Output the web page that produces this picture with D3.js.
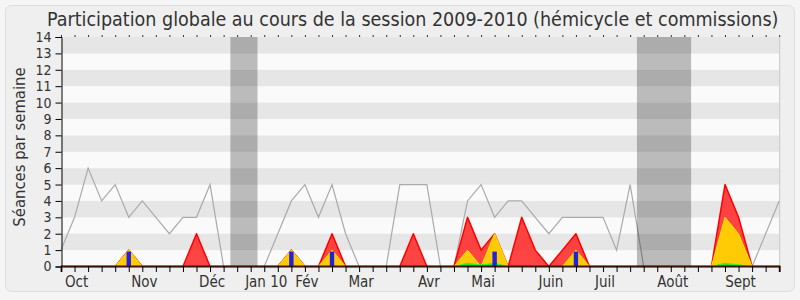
<!DOCTYPE html>
<html>
<head>
<meta charset="utf-8">
<script src="https://cdn.jsdelivr.net/npm/d3@7"></script>
<style>
  body { margin: 0; background: #f5f5f5; }
  text { font-family: "DejaVu Sans Condensed", "DejaVu Sans", sans-serif; fill: #333; }
</style>
</head>
<body>
<svg id="chart" width="800" height="300"></svg>
<script>
// one value per week, Oct 2009 -> Sept 2010
var median   = [1, 3, 6, 4, 5, 3, 4, 3, 2, 3, 3, 5, 0, 0, 0, 0, 2, 4, 5, 3,
                5, 2, 0, 0, 0, 5, 5, 5, 0, 0, 4, 5, 3, 4, 4, 3, 2, 3, 3, 3,
                3, 1, 5, 0, 0, 0, 0, 0, 0, 1, 2, 0, 2, 4];
var presence = [0, 0, 0, 0, 0, 1, 0, 0, 0, 0, 2, 0, 0, 0, 0, 0, 0, 1, 0, 0,
                2, 0, 0, 0, 0, 0, 2, 0, 0, 0, 3, 1, 2, 0, 3, 1, 0, 1, 2, 0,
                0, 0, 0, 0, 0, 0, 0, 0, 0, 5, 3, 0, 0, 0];
var interv   = [0, 0, 0, 0, 0, 1, 0, 0, 0, 0, 0, 0, 0, 0, 0, 0, 0, 1, 0, 0,
                1, 0, 0, 0, 0, 0, 0, 0, 0, 0, 1, 0, 2, 0, 0, 0, 0, 0, 1, 0,
                0, 0, 0, 0, 0, 0, 0, 0, 0, 3, 2, 0, 0, 0];
var longues  = [0, 0, 0, 0, 0, 0, 0, 0, 0, 0, 0, 0, 0, 0, 0, 0, 0, 0, 0, 0,
                0, 0, 0, 0, 0, 0, 0, 0, 0, 0, 0.2, 0.1, 0.2, 0, 0, 0, 0, 0, 0, 0,
                0, 0, 0, 0, 0, 0, 0, 0, 0, 0.2, 0.1, 0, 0, 0];
var questions = [0, 0, 0, 0, 0, 1, 0, 0, 0, 0, 0, 0, 0, 0, 0, 0, 0, 1, 0, 0,
                 1, 0, 0, 0, 0, 0, 0, 0, 0, 0, 0, 0, 1, 0, 0, 0, 0, 0, 1, 0,
                 0, 0, 0, 0, 0, 0, 0, 0, 0, 0, 0, 0, 0, 0];
var vacances = [[12.5, 14.5], [42.5, 46.5]];
var monthWeeks  = [1, 6, 11, 15, 18, 22, 27, 31, 36, 40, 45, 50];
var monthLabels = ['Oct', 'Nov', 'Déc', 'Jan 10', 'Fév', 'Mar', 'Avr', 'Mai', 'Juin', 'Juil', 'Août', 'Sept'];
var yTicks = d3.range(0, 15);

var svg = d3.select('#chart');
var x = d3.scaleLinear().domain([0, median.length - 1]).range([61, 779.2]);
var y = d3.scaleLinear().domain([0, 14]).range([266.5, 37]);

// card
svg.append('rect').attr('x', 5.5).attr('y', 5.5).attr('width', 789).attr('height', 286)
    .attr('rx', 6).attr('fill', '#efefef').attr('stroke', '#dedede');

// stripes
svg.append('g').selectAll('rect').data(d3.range(0, 14)).enter().append('rect')
    .attr('x', x(0)).attr('width', x.range()[1] - x(0))
    .attr('y', function(k) { return y(k + 1); })
    .attr('height', function(k) { return y(k) - y(k + 1); })
    .attr('fill', function(k) { return k % 2 ? '#e6e6e6' : '#fafafa'; });

svg.append('line').attr('x1', x.range()[1] + 0.5).attr('x2', x.range()[1] + 0.5)
    .attr('y1', y(14)).attr('y2', y(0)).attr('stroke', '#c8c8c8');

var idx = d3.range(median.length);
var line = function(vals) {
    return d3.line().x(function(i) { return x(i); }).y(function(i) { return y(vals[i]); })(idx);
};
var area = function(vals) {
    return d3.area().x(function(i) { return x(i); }).y0(y(0)).y1(function(i) { return y(vals[i]); })(idx);
};

svg.append('path').attr('d', line(median)).attr('fill', 'none')
    .attr('stroke', '#aaaaaa').attr('stroke-width', 1.2);

function serie(vals, fill, opacity, stroke, width) {
    svg.append('path').attr('d', area(vals)).attr('fill', fill).attr('fill-opacity', opacity);
    svg.append('path').attr('d', line(vals)).attr('fill', 'none')
        .attr('stroke', stroke).attr('stroke-width', width).attr('stroke-linejoin', 'round');
}
serie(presence, '#ff2a2a', 0.88, '#ff0000', 1.5);
serie(interv, '#ffd700', 0.92, '#ffe800', 1);
serie(longues, '#33dd33', 1, '#22ff22', 1);

svg.append('g').selectAll('rect').data(idx.filter(function(i) { return questions[i] > 0; }))
    .enter().append('rect')
    .attr('x', function(i) { return x(i) - 2.2; }).attr('width', 4.4)
    .attr('y', function(i) { return y(questions[i]) + 1.5; })
    .attr('height', function(i) { return y(0) - y(questions[i]) - 1.5; })
    .attr('fill', '#2222dd');

// holidays
svg.append('g').selectAll('rect').data(vacances).enter().append('rect')
    .attr('x', function(v) { return x(v[0]); })
    .attr('width', function(v) { return x(v[1]) - x(v[0]); })
    .attr('y', y(14)).attr('height', y(0) - y(14))
    .attr('fill', '#000').attr('fill-opacity', 0.25);

// axes
var yAxis = svg.append('g').attr('transform', 'translate(' + (x(0) + 0.5) + ',0)')
    .call(d3.axisLeft(y).tickValues(yTicks).tickSize(6).tickPadding(4).tickFormat(d3.format('d')));
yAxis.selectAll('text').style('font-size', '14px');

var xAxis = svg.append('g').attr('transform', 'translate(0,' + (y(0) - 0.5) + ')')
    .call(d3.axisBottom(x).tickValues(idx).tickSize(6).tickFormat(''));
xAxis.select('.domain').attr('stroke', '#3a140a').attr('stroke-width', 1.8);

svg.append('g').selectAll('line').data(idx).enter().append('line')
    .attr('x1', function(i) { return x(i) + 0.5; }).attr('x2', function(i) { return x(i) + 0.5; })
    .attr('y1', y(14) - 2).attr('y2', y(14)).attr('stroke', '#333');

svg.append('g').selectAll('text').data(monthLabels).enter().append('text')
    .attr('x', function(d, i) { return x(monthWeeks[i]) + 2; })
    .attr('y', 287).attr('text-anchor', 'middle').style('font-size', '15px')
    .text(function(d) { return d; });

svg.append('text').attr('x', 47).attr('y', 26).style('font-size', '19.5px')
    .text('Participation globale au cours de la session 2009-2010 (hémicycle et commissions)');

svg.append('text').attr('transform', 'translate(25,147) rotate(-90)')
    .attr('text-anchor', 'middle').style('font-size', '16.5px')
    .text('Séances par semaine');
</script>
</body>
</html>
